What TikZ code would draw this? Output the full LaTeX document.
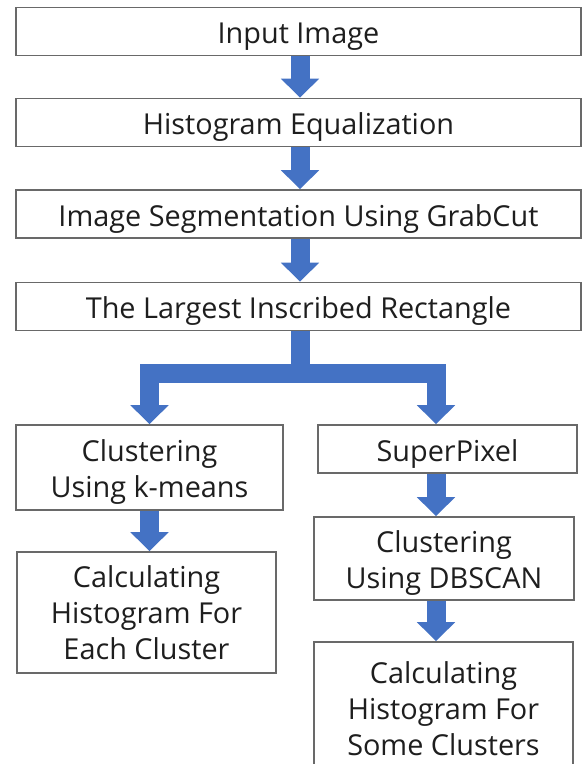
\documentclass[tikz,border=0pt]{standalone}
\usepackage{fontspec}
\setmainfont{Open Sans}
\usetikzlibrary{arrows.meta,positioning}

\definecolor{flowblue}{RGB}{68,114,196}
\definecolor{boxgray}{RGB}{105,105,105}
\definecolor{txtgray}{RGB}{30,30,30}
\newcommand\topstrut{\rule{0pt}{22.5pt}}

\begin{document}
\begin{tikzpicture}[x=0.025cm,y=-0.025cm,
  stage/.style={draw=boxgray,line width=1.1pt,fill=white,inner sep=0pt,align=center,
    text=txtgray,font=\fontsize{20.5}{25.6}\selectfont},
  wide/.style={stage,minimum width=14.125cm,minimum height=1.2cm},
  half/.style={stage,minimum width=6.5cm},
  flow/.style={flowblue,line width=0.475cm,line join=miter},
  flowarrow/.style={flow,-{Triangle[width=0.925cm,length=0.475cm]}}]
\useasboundingbox (0,0) rectangle (582,764);
\node[wide] (input) at (298.5,31.5) {\topstrut Input Image};
\node[wide] (histeq) at (298.5,122.5) {\topstrut Histogram Equalization};
\node[wide] (grabcut) at (298.5,214) {\topstrut Image Segmentation Using GrabCut};
\node[wide] (rect) at (298.5,306.5) {\topstrut The Largest Inscribed Rectangle};
\node[half,minimum width=6.675cm,minimum height=2.125cm] (kmeans) at (149.5,467.5) {\topstrut Clustering\\Using k-means};
\node[half,minimum width=6.475cm,minimum height=1.2cm] (superpx) at (447.5,449) {\topstrut SuperPixel};
\node[half,minimum height=2.075cm] (dbscan) at (444,558.5) {\topstrut Clustering\\Using DBSCAN};
\node[half,minimum width=6.475cm,minimum height=3.025cm] (eachhist) at (146.5,612.5) {Calculating\\Histogram For\\Each Cluster};
\node[half,minimum width=6.475cm,minimum height=3.075cm] (somehist) at (443.5,703.5) {\topstrut Calculating\\Histogram For\\Some Clusters};
\coordinate (split) at (300,373);
\coordinate (rjoin) at (436,373);
% main chain
\foreach \a/\b in {input/histeq,histeq/grabcut,grabcut/rect}{
  \draw[flowarrow] (\a.south -| split) -- (\b.north -| split);
}
% branching
\draw[flow] (rect.south -| split) -- (split);
\draw[flowarrow] (split) -| (kmeans.north);
\draw[flowarrow] (split) -| (rjoin |- superpx.north);
\draw[flowarrow] (kmeans.south) -- (kmeans.south |- eachhist.north);
\draw[flowarrow] (rjoin |- superpx.south) -- (rjoin |- dbscan.north);
\draw[flowarrow] (rjoin |- dbscan.south) -- (rjoin |- somehist.north);
\end{tikzpicture}
\end{document}
